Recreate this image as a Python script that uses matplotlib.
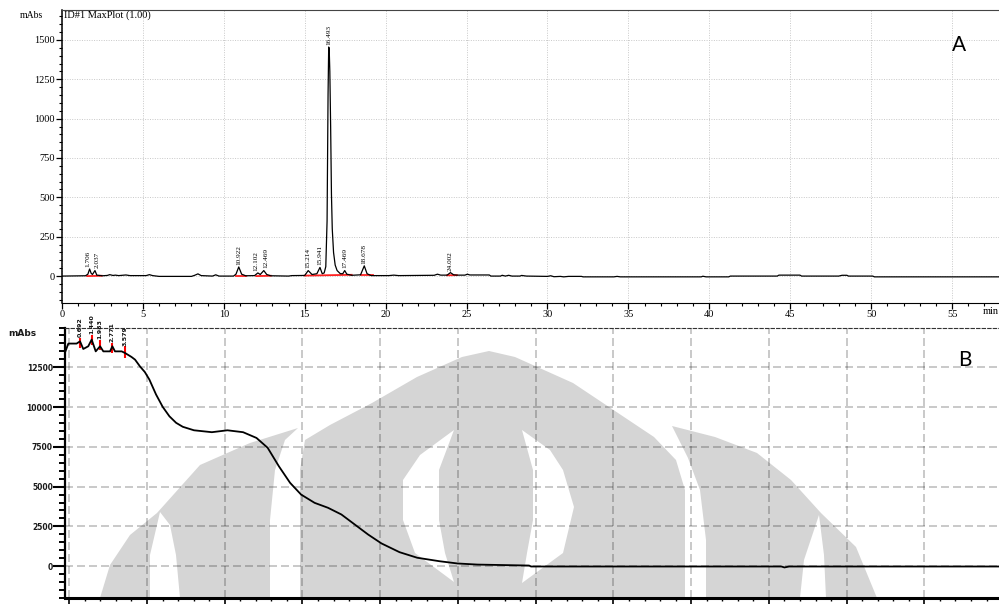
import matplotlib
matplotlib.use("Agg")
import matplotlib.pyplot as plt
from matplotlib.patches import Polygon
from matplotlib.ticker import MultipleLocator, FixedLocator, FuncFormatter

# ---------------------------------------------------------------------------
# Donnees - chromatogramme A (min, mAbs)
# ---------------------------------------------------------------------------
a_time = [0, 1.45, 1.6, 1.706, 1.8, 1.88, 2.037, 2.15, 2.5, 2.8, 2.95, 3.15, 3.3, 3.5,
          3.95, 4.2, 5.2, 5.4, 5.6, 6.0, 8.0, 8.2, 8.4, 8.6, 9.3, 9.5, 9.7, 10.6,
          10.75, 10.922, 11.1, 11.35, 11.9, 12.102, 12.25, 12.469, 12.65, 12.9, 14.0,
          14.2, 15.0, 15.214, 15.45, 15.75, 15.941, 16.08, 16.2, 16.3, 16.38, 16.44,
          16.48, 16.51, 16.55, 16.6, 16.65, 16.7, 16.78, 16.88, 17.0, 17.2, 17.35,
          17.469, 17.6, 17.9, 18.45, 18.678, 18.85, 19.1, 20.2, 20.5, 20.8, 23.0,
          23.2, 23.4, 23.8, 24.002, 24.2, 24.4, 24.9, 25.05, 25.2, 26.4, 26.5, 27.1,
          27.2, 27.4, 27.6, 27.8, 28.3, 28.4, 28.7, 30.0, 30.2, 30.4, 30.8, 31.0,
          31.3, 32.1, 32.2, 34.1, 34.3, 34.5, 39.5, 39.6, 39.8, 41.2, 41.3, 44.2,
          44.3, 45.6, 45.7, 48.0, 48.2, 48.5, 48.6, 50.1, 50.2, 58.0]
a_abs = [0, 2, 12, 45, 18, 10, 35, 6, 2, 4, 9, 4, 6, 3,
         7, 3, 3, 9, 3, -2, -2, 5, 14, 3, 0, 8, 0, 0,
         12, 58, 12, 2, 3, 20, 10, 35, 10, 2, 0,
         3, 4, 35, 10, 15, 55, 15, 20, 60, 350, 1150,
         1455, 1445, 1300, 950, 520, 300, 150, 70, 35, 15, 15,
         35, 12, 5, 8, 65, 15, 3, 3, 6, 3, 5,
         12, 6, 6, 22, 8, 6, 6, 12, 7, 7, 0, 0,
         5, 0, 5, 0, 0, 4, 0, -2, 2, -4, -2, -5,
         -2, -2, -5, -5, -2, -5, -5, -1, -5, -5, 0, 0,
         6, 6, 0, 0, 5, 5, 0, 0, -5, -5]

# pics integres (temps de retention, hauteur)
a_peak_rt = [1.706, 2.037, 10.922, 12.102, 12.469, 15.214, 15.941, 16.493, 17.469, 18.678, 24.002]
a_peak_h = [45, 35, 58, 20, 35, 35, 55, 1455, 35, 65, 22]
# petit decalage horizontal des etiquettes serrees (points)
a_lbl_dx = [-1.6, 1.6, 0, -1.4, 1.4, 0, 0, 0, 0, 0, 0]

# lignes de base (rouge): debut, fin, niveau debut, niveau fin
a_base_start = [1.55, 10.75, 12.0, 15.0, 18.5, 23.8]
a_base_end = [2.45, 11.35, 12.9, 17.9, 19.2, 24.4]
a_base_y0 = [0, 0, 0, 3, 4, 5]
a_base_y1 = [2, 0, 2, 8, 4, 6]

a_yticks = [0, 250, 500, 750, 1000, 1250, 1500]

# ---------------------------------------------------------------------------
# Donnees - chromatogramme B (min, mAbs)
# ---------------------------------------------------------------------------
b_time = [-0.25, -0.06, 0.47, 0.69, 0.90, 1.22, 1.44, 1.70, 1.98, 2.19, 2.62, 2.77,
          2.94, 3.37, 3.58, 4.0, 4.23, 4.55, 4.86, 5.15, 5.58, 6.01, 6.44, 6.87,
          7.30, 8.02, 9.17, 10.17, 11.18, 12.04, 12.76, 13.48, 14.2, 14.91, 15.78,
          16.64, 17.5, 18.36, 19.22, 20.08, 21.24, 22.38, 23.82, 24.97, 26.26,
          29.57, 29.7, 45.8, 46.0, 46.3, 59.8]
b_abs = [13500, 13990, 13990, 14130, 13650, 13820, 14240, 13500, 13820, 13500, 13500, 13820,
         13500, 13500, 13400, 13150, 12980, 12550, 12200, 11730, 10790, 10010, 9420, 9010,
         8760, 8540, 8420, 8540, 8420, 8060, 7440, 6280, 5240, 4500, 3980,
         3670, 3250, 2620, 1990, 1430, 880, 530, 310, 170, 100,
         40, -20, -20, -80, -20, -20]

b_peak_rt = [0.69, 1.44, 1.98, 2.77, 3.58]
b_peak_lbl = ["0.692", "1.440", "1.983", "2.771", "3.579"]
b_mark_hi = [14340, 14550, 14240, 14030, 13820]
b_mark_lo = [13720, 13930, 13610, 13400, 13090]

b_yticks = [0, 2500, 5000, 7500, 10000, 12500]

# ---------------------------------------------------------------------------
# Figure
# ---------------------------------------------------------------------------
W, H = 999, 604
fig = plt.figure(figsize=(W / 100, H / 100), dpi=100)
fig.patch.set_facecolor("white")


def fx(x):
    return x / W


def fy(y):
    return 1 - y / H


SERIF = "Liberation Serif"

# ---- panneau A ----
axA = fig.add_axes([fx(62), fy(303), 1 - fx(62), fy(10) - fy(303)])
axA.plot(a_time, a_abs, color="black", lw=0.9, zorder=3)
for s, e, y0, y1 in zip(a_base_start, a_base_end, a_base_y0, a_base_y1):
    axA.plot([s, e], [y0, y1], color="#ff2020", lw=1.3, zorder=2)
for rt, h, dx in zip(a_peak_rt, a_peak_h, a_lbl_dx):
    axA.annotate(f"{rt:.3f}", (rt, h), xytext=(dx, 1.5), textcoords="offset points",
                 rotation=90, ha="center", va="bottom", fontsize=5.2, family=SERIF)

axA.set_xlim(0, 57.9)
axA.set_ylim(-171, 1690)
axA.xaxis.set_major_locator(MultipleLocator(5))
axA.xaxis.set_minor_locator(MultipleLocator(1))
axA.yaxis.set_major_locator(FixedLocator(a_yticks))
axA.yaxis.set_minor_locator(MultipleLocator(50))
axA.tick_params(which="major", length=4, width=0.9, labelsize=7.5, pad=1)
axA.tick_params(which="minor", length=2.2, width=0.8)
for lab in axA.get_xticklabels() + axA.get_yticklabels():
    lab.set_family(SERIF)
axA.grid(which="major", color="#c8c8c8", ls=(0, (1, 1.5)), lw=0.7)
axA.set_axisbelow(True)
axA.spines["right"].set_visible(False)
axA.spines["top"].set_color("#444444")
axA.spines["left"].set_linewidth(1.1)
axA.text(0.002, 0.983, "ID#1 MaxPlot (1.00)", transform=axA.transAxes, ha="left",
         va="center", fontsize=7.5, family=SERIF)
fig.text(fx(20), fy(15), "mAbs", ha="left", va="center", fontsize=7, family=SERIF)
fig.text(fx(983), fy(312), "min", ha="left", va="center", fontsize=7.5, family=SERIF)
fig.text(fx(952), fy(45), "A", ha="left", va="center", fontsize=15, family="Lato")

# ---- panneau B ----
axB = fig.add_axes([fx(65.4), fy(598), 1 - fx(65.4), fy(327.5) - fy(598)])
axB.set_facecolor("none")

# filigrane gris (logo) en coordonnees pixel de la figure
GREY = "#d5d5d5"
watermark = [
    ([(100, 598), (110, 565), (130, 535), (157, 513), (200, 465), (250, 443), (298, 428),
      (285, 440), (275, 470), (270, 520), (270, 598)], GREY),
    ([(160, 512), (150, 555), (150, 598), (180, 598), (176, 555), (170, 525)], "white"),
    ([(300, 598), (300, 470), (305, 440), (330, 425), (372, 403), (417, 377), (462, 357),
      (489, 351), (515, 357), (573, 383), (609, 407), (654, 437), (676, 460), (685, 490),
      (685, 598)], GREY),
    ([(454, 430), (420, 455), (403, 480), (403, 520), (415, 553), (454, 582), (445, 553),
      (439, 520), (439, 470)], "white"),
    ([(522, 430), (550, 450), (563, 470), (574, 507), (563, 553), (522, 583), (527, 553),
      (533, 520), (533, 470)], "white"),
    ([(672, 426), (715, 437), (757, 453), (791, 480), (821, 513), (856, 547), (877, 598),
      (706, 598), (706, 540), (700, 490), (688, 458)], GREY),
    ([(819, 515), (804, 560), (800, 598), (826, 598), (824, 555)], "white"),
]
for pts, col in watermark:
    poly = Polygon([(fx(x), fy(y)) for x, y in pts], closed=True, facecolor=col,
                   edgecolor="none", transform=fig.transFigure, zorder=0.2)
    axB.add_patch(poly)

axB.vlines(b_peak_rt, b_mark_lo, b_mark_hi, colors="#ff0000", lw=1.5, zorder=2)
axB.plot(b_time, b_abs, color="black", lw=1.3, zorder=3)
for rt, hi, lbl in zip(b_peak_rt, b_mark_hi, b_peak_lbl):
    axB.annotate(lbl, (rt, hi), xytext=(0, 0.5), textcoords="offset points", rotation=90,
                 ha="center", va="bottom", fontsize=4.5, fontweight="bold",
                 annotation_clip=False, color="#111111")

axB.set_xlim(-0.25, 59.8)
axB.set_ylim(-2000, 15000)
axB.xaxis.set_major_locator(MultipleLocator(5))
axB.xaxis.set_minor_locator(MultipleLocator(1))
axB.yaxis.set_major_locator(FixedLocator(b_yticks))
axB.yaxis.set_minor_locator(MultipleLocator(500))
axB.yaxis.set_major_formatter(FuncFormatter(lambda v, p: f"{int(v)}"))
axB.tick_params(axis="y", which="major", length=8.5, width=1.5, labelsize=5.5, pad=0.5)
axB.tick_params(axis="y", which="minor", length=4.3, width=1.4)
axB.tick_params(axis="x", which="major", length=4, width=1.2, labelbottom=False)
axB.tick_params(axis="x", which="minor", length=2.5, width=1.0)
for lab in axB.get_yticklabels():
    lab.set_fontweight("bold")
    lab.set_color("#1a1a1a")
axB.grid(which="major", color="black", alpha=0.25, ls=(0, (4.8, 2.4)), lw=1.2)
axB.set_axisbelow(True)
axB.spines["right"].set_visible(False)
axB.spines["top"].set_linestyle((0, (3, 2)))
axB.spines["top"].set_color("#333333")
axB.spines["left"].set_linewidth(1.6)
axB.spines["bottom"].set_linewidth(2.2)
fig.text(fx(8), fy(333), "mAbs", ha="left", va="center", fontsize=6.5, fontweight="bold",
         color="#1a1a1a")
fig.text(fx(958), fy(360), "B", ha="left", va="center", fontsize=15, family="Lato")

fig.savefig("out.png", dpi=100)
